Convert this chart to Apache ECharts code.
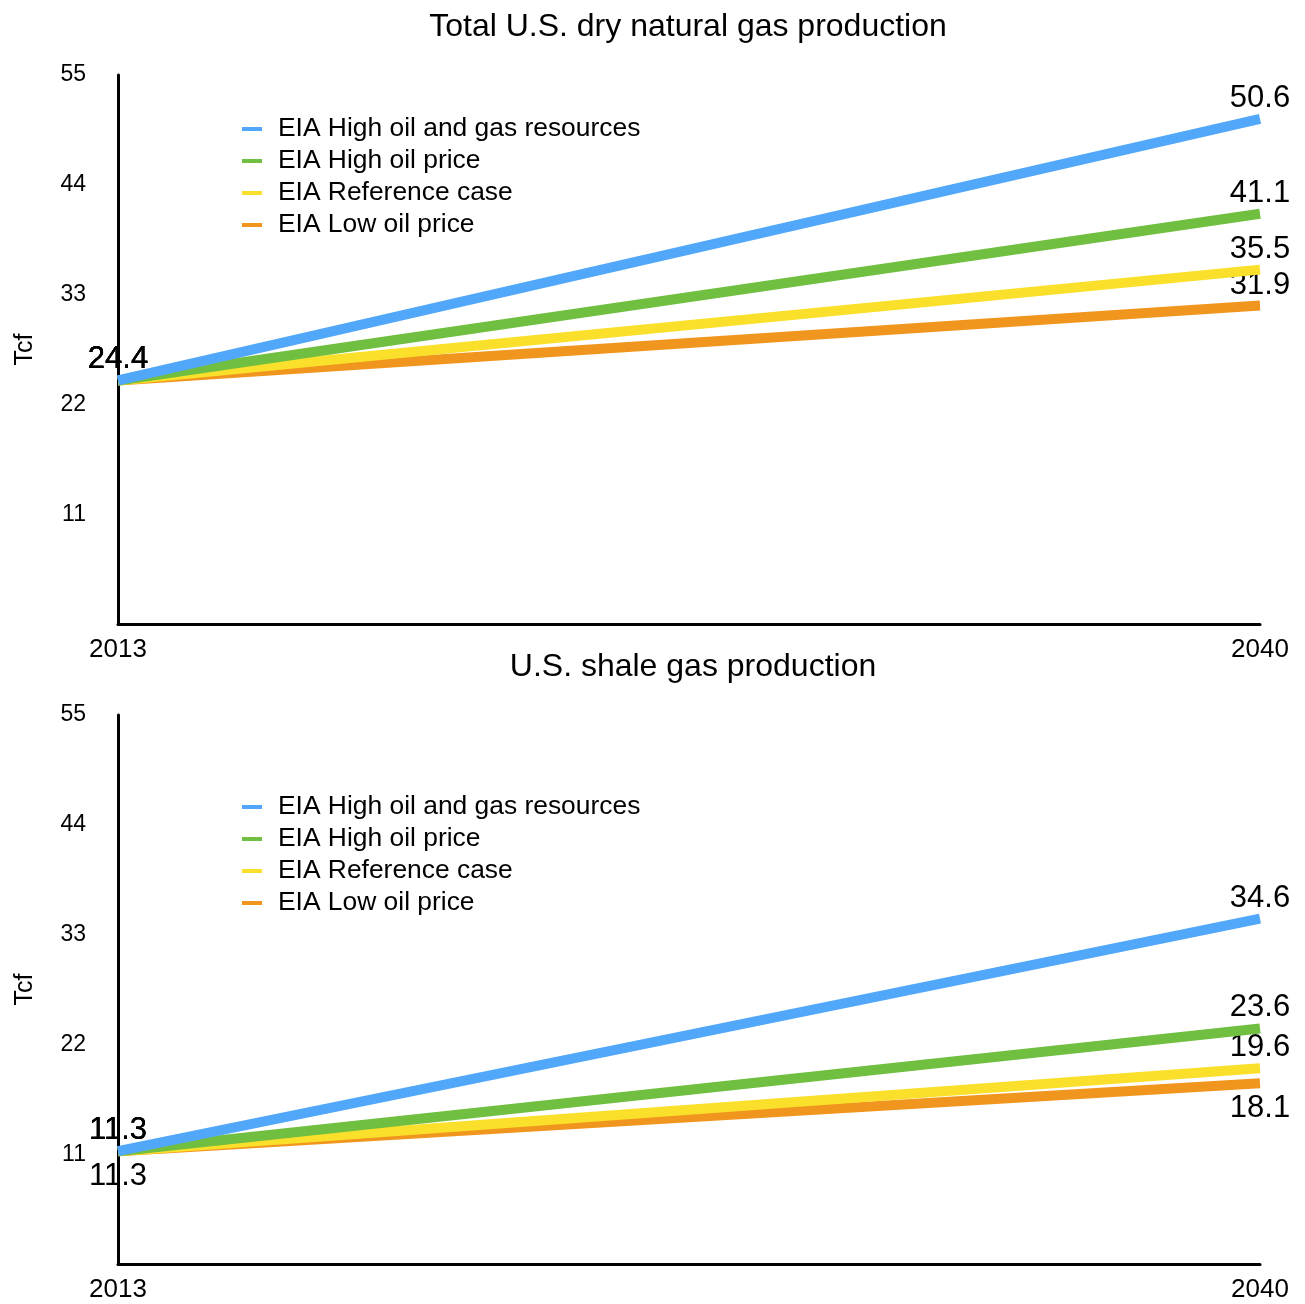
<!DOCTYPE html>
<html>
<head>
<meta charset="utf-8">
<title>U.S. natural gas production</title>
<script src="https://cdn.jsdelivr.net/npm/echarts@6/dist/echarts.min.js"></script>
<style>
  html, body { margin: 0; padding: 0; background: #fff; }
  #chart { width: 1305px; height: 1304px; }
</style>
</head>
<body>
<div id="chart"></div>
<script>
// data
const years = ['2013', '2040']
const scenarios = ['EIA High oil and gas resources', 'EIA High oil price', 'EIA Reference case', 'EIA Low oil price']
const yTicks = [0, 11, 22, 33, 44, 55]

const totalHighResource = [24.4, 50.6]
const totalHighPrice = [24.4, 41.1]
const totalReference = [24.4, 35.5]
const totalLowPrice = [24.4, 31.9]

const shaleHighResource = [11.3, 34.6]
const shaleHighPrice = [11.3, 23.6]
const shaleReference = [11.3, 19.6]
const shaleLowPrice = [11.3, 18.1]

const colors = ['#51A7F9', '#70BF41', '#FBE02B', '#F0961E']
const font = 'Helvetica, "Liberation Sans", Arial, sans-serif'

const totalData = [totalHighResource, totalHighPrice, totalReference, totalLowPrice]
const shaleData = [shaleHighResource, shaleHighPrice, shaleReference, shaleLowPrice]

function makeGrid(top) {
  return { left: 118, right: 45, top: top, height: 549 }
}

function makeXAxis(idx) {
  return {
    gridIndex: idx,
    type: 'category',
    data: years,
    boundaryGap: false,
    axisLine: { lineStyle: { color: '#000', width: 3 } },
    axisTick: { show: false },
    axisLabel: { color: '#000', fontSize: 26, fontFamily: font, margin: 13 }
  }
}

function makeYAxis(idx) {
  return {
    gridIndex: idx,
    type: 'value',
    min: yTicks[0],
    max: yTicks[yTicks.length - 1],
    interval: 11,
    name: 'Tcf',
    nameLocation: 'middle',
    nameGap: 80,
    nameTextStyle: { color: '#000', fontSize: 25, fontFamily: font },
    axisLine: { show: true, lineStyle: { color: '#000', width: 3 } },
    axisTick: { show: false },
    splitLine: { show: false },
    axisLabel: {
      color: '#000', fontSize: 23, fontFamily: font, margin: 32,
      formatter: v => (v === 0 ? '' : String(v))
    }
  }
}

function makeLegend(top) {
  return {
    data: scenarios,
    orient: 'vertical',
    left: 237,
    top: top,
    itemWidth: 20,
    itemHeight: 4,
    itemGap: 0,
    icon: 'rect',
    textStyle: { color: '#000', fontSize: 26.4, fontFamily: font, lineHeight: 32, padding: [0, 0, 0, 11] }
  }
}

const series = []
function addSeries(dataSets, idx, lowLabelBelow) {
  dataSets.forEach((vals, i) => {
    const below = lowLabelBelow && i === 3
    series.push({
      name: scenarios[i],
      type: 'line',
      xAxisIndex: idx,
      yAxisIndex: idx,
      data: vals,
      z: 10 - i,
      symbol: 'circle',
      symbolSize: 0.1,
      showSymbol: true,
      lineStyle: { color: colors[i], width: 10, cap: 'butt' },
      itemStyle: { color: colors[i] },
      label: {
        show: true,
        position: below ? 'bottom' : 'top',
        distance: below ? 10 : 5,
        color: '#000',
        fontSize: 31,
        fontFamily: font
      }
    })
  })
}
addSeries(totalData, 0, false)
addSeries(shaleData, 1, true)

const titleStyle = { color: '#000', fontSize: 32, fontWeight: 'normal', fontFamily: font }

const option = {
  backgroundColor: '#fff',
  animation: false,
  title: [
    { text: 'Total U.S. dry natural gas production', left: 683, textAlign: 'center', top: 6, textStyle: titleStyle },
    { text: 'U.S. shale gas production', left: 688, textAlign: 'center', top: 646, textStyle: titleStyle }
  ],
  legend: [makeLegend(108), makeLegend(786)],
  grid: [makeGrid(75), makeGrid(715)],
  xAxis: [makeXAxis(0), makeXAxis(1)],
  yAxis: [makeYAxis(0), makeYAxis(1)],
  series: series
}

const myChart = echarts.init(document.getElementById('chart'))
myChart.setOption(option)
</script>
</body>
</html>
